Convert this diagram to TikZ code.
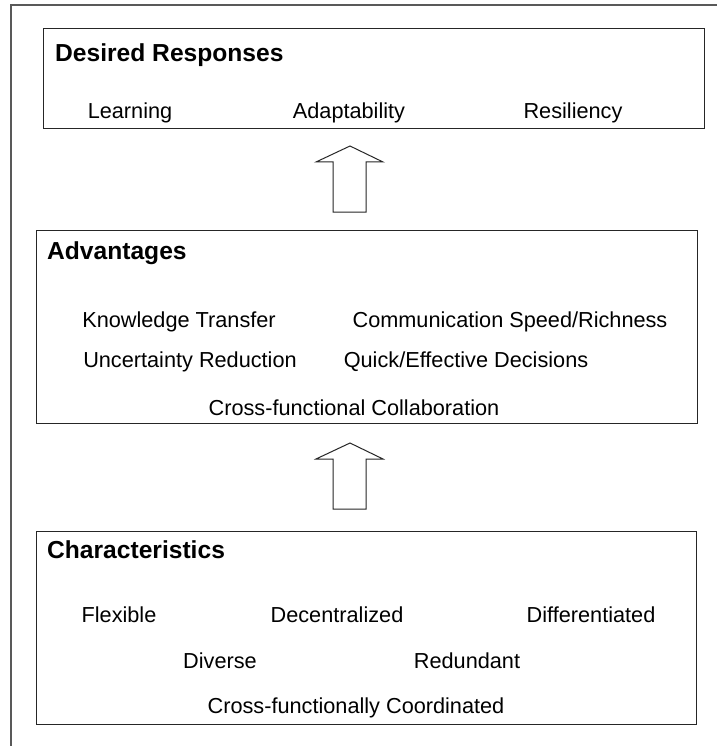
\documentclass[tikz,border=0pt]{standalone}
\usepackage{fontspec}
\setmainfont{Liberation Sans}
\begin{document}
\begin{tikzpicture}[x=1pt,y=-1pt,
  frame/.style={draw=black!65,line width=1.3pt},
  panel/.style={draw=black!85,line width=1pt},
  title/.style={anchor=base west,inner sep=0pt,font=\fontsize{24.6}{28}\selectfont\bfseries},
  item/.style={anchor=base,inner sep=0pt,font=\fontsize{21.7}{26}\selectfont},
  uparrow/.style={draw=black!85,line width=1pt,fill=white,line join=miter}]
\useasboundingbox (0,0) rectangle (717,746);
% outer frame (left and top only visible)
\draw[frame] (11,746) -- (11,5) -- (717,5);
% panels
\draw[panel] (43,29) rectangle (704,129);
\draw[panel] (36,230) rectangle (697,423);
\draw[panel] (36,531) rectangle (696,724);
% titles
\node[title] (t1) at (55,62) {Desired Responses};
\node[title] (t2) at (47,259) {Advantages};
\node[title] (t3) at (47,558) {Characteristics};
% top items
\node[item] (learn) at (130,119) {Learning};
\node[item] (adapt) at (349,119) {Adaptability};
\node[item] (resil) at (573,119) {Resiliency};
% middle items
\node[item] (kt) at (179,327) {Knowledge Transfer};
\node[item] (csr) at (510,327) {Communication Speed/Richness};
\node[item] (ur) at (190,367) {Uncertainty Reduction};
\node[item] (qed) at (466,367) {Quick/Effective Decisions};
\node[item] (cfc) at (354,415) {Cross-functional Collaboration};
% bottom items
\node[item] (flex) at (119,622) {Flexible};
\node[item] (dec) at (337,622) {Decentralized};
\node[item] (diff) at (591,622) {Differentiated};
\node[item] (div) at (220,668) {Diverse};
\node[item] (red) at (467,668) {Redundant};
\node[item] (cfco) at (356,713) {Cross-functionally Coordinated};
% block arrows
\coordinate (a1) at (350,146);
\coordinate (a2) at (350,443);
\foreach \c/\b in {a1/212,a2/509}{
  \draw[uparrow] (\c) -- ++(33,16) -- ++(-17,0) |- (333,\b) |- (316,{\b-50}) -- cycle;
}
\end{tikzpicture}
\end{document}
